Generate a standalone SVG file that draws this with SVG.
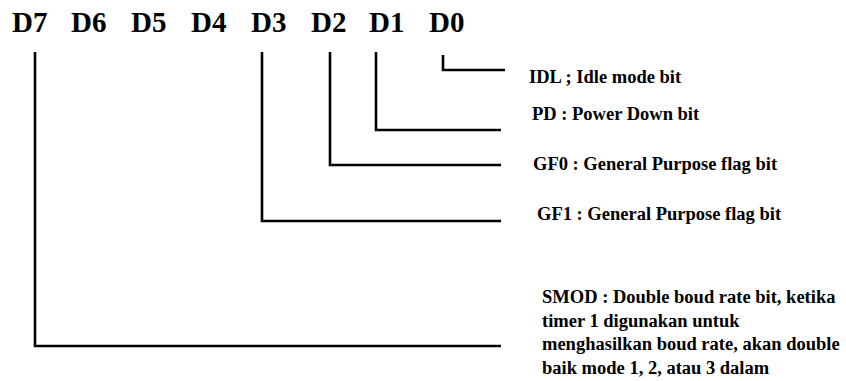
<svg xmlns="http://www.w3.org/2000/svg" width="846" height="381" viewBox="0 0 846 381">
<style>
.hd{font-family:"Liberation Serif","Times New Roman","Tinos","DejaVu Serif",serif;font-size:29px;font-weight:bold;fill:#000}
.lb{font-family:"Liberation Serif","Times New Roman","Tinos","DejaVu Serif",serif;font-size:18.5px;font-weight:bold;fill:#000}
.cn{fill:none;stroke:#000;stroke-width:2.6;stroke-linejoin:miter}
</style>
<rect width="846" height="381" fill="#fff"/>
<g id="header">
<text class="hd" x="12" y="32">D7</text>
<text class="hd" x="71" y="32">D6</text>
<text class="hd" x="131" y="32">D5</text>
<text class="hd" x="191" y="32">D4</text>
<text class="hd" x="251" y="32">D3</text>
<text class="hd" x="311" y="32">D2</text>
<text class="hd" x="369" y="32">D1</text>
<text class="hd" x="429" y="32">D0</text>
</g>
<g id="connectors">
<path class="cn" d="M443 55 V70 H505"/>
<path class="cn" d="M376 52 V130 H501"/>
<path class="cn" d="M330 52 V165 H501"/>
<path class="cn" d="M262 52 V221 H501"/>
<path class="cn" d="M35 52 V346 H501"/>
</g>
<g id="idl"><text class="lb" x="529" y="83">IDL ; Idle mode bit</text></g>
<g id="pd"><text class="lb" x="532" y="120">PD : Power Down bit</text></g>
<g id="gf0"><text class="lb" x="533" y="170">GF0 : General Purpose flag bit</text></g>
<g id="gf1"><text class="lb" x="537" y="220">GF1 : General Purpose flag bit</text></g>
<g id="smod">
<text class="lb" x="542" y="303">SMOD : Double boud rate bit, ketika</text>
<text class="lb" x="542" y="327">timer 1 digunakan untuk</text>
<text class="lb" x="542" y="350">menghasilkan boud rate, akan double</text>
<text class="lb" x="542" y="374">baik mode 1, 2, atau 3 dalam</text>
</g>
</svg>
